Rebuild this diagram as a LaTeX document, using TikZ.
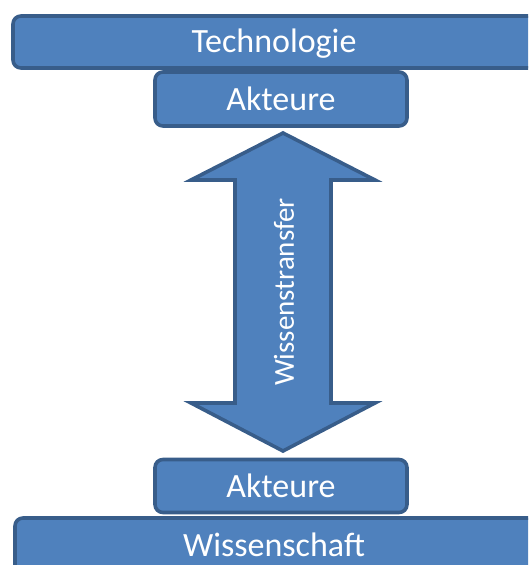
\documentclass[tikz,border=0pt]{standalone}
\usepackage{fontspec}
\setmainfont{Carlito}
\begin{document}
\begin{tikzpicture}[x=1pt,y=-1pt,
  block/.style={draw=boxline, fill=boxfill, line width=3.6pt, rounded corners=8pt,
    text=white, font=\fontsize{34}{34}\selectfont, inner sep=0pt},
  label/.style={text=white, font=\fontsize{34}{34}\selectfont, inner sep=0pt},
]
\definecolor{boxfill}{HTML}{4F81BD}
\definecolor{boxline}{HTML}{385D8A}
\useasboundingbox (0,0) rectangle (528,565);
\clip (0,0) rectangle (528,565);

% layer bars
\draw[block] (13,16) rectangle (560,68);
\node[label] (tech) at (274,44) {Technologie};
\draw[block] (15,518) rectangle (560,600);
\node[label] (wiss) at (274,545) {Wissenschaft};

% actor boxes
\node[block, minimum width=252pt, minimum height=54pt] (akt1) at (281,99) {Akteure};
\node[block, minimum width=252pt, minimum height=53pt] (akt2) at (281,486) {Akteure};

% double block arrow for the knowledge transfer
\draw[draw=boxline, fill=boxfill, line width=3.6pt, line join=miter]
  (283,133) -- (375,180) -- (331,180) -- (331,403) -- (375,403) -- (283,451)
  -- (191,403) -- (235,403) -- (235,180) -- (191,180) -- cycle;
\node[rotate=90, text=white, font=\fontsize{29}{29}\selectfont] (transfer) at (284,292) {Wissenstransfer};
\end{tikzpicture}
\end{document}
